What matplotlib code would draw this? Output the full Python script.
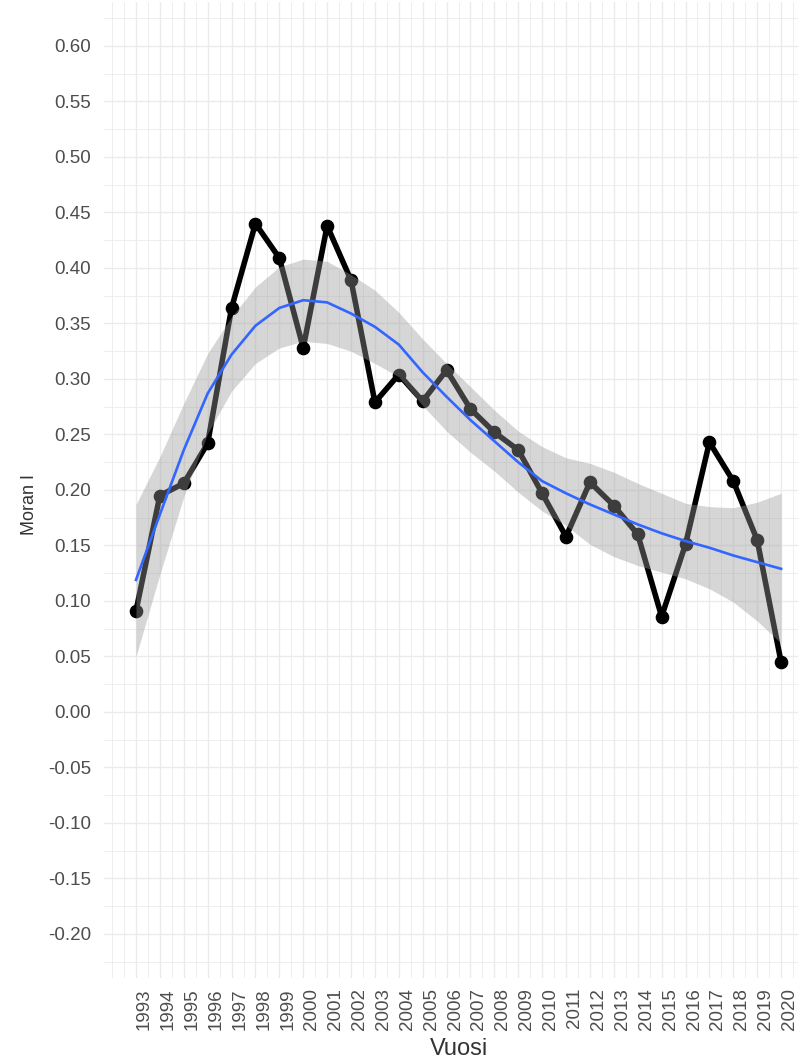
import numpy as np
import matplotlib
matplotlib.use('Agg')
import matplotlib.pyplot as plt
from matplotlib.ticker import MultipleLocator

plt.rcParams['font.family'] = ['Liberation Sans', 'DejaVu Sans']

years = list(range(1993, 2021))
moran = [0.091, 0.195, 0.206, 0.242, 0.364, 0.440, 0.409, 0.328, 0.438, 0.389,
         0.279, 0.304, 0.280, 0.308, 0.273, 0.252, 0.236, 0.197, 0.158, 0.207,
         0.186, 0.160, 0.086, 0.151, 0.243, 0.208, 0.155, 0.045]

# loess fit and its confidence band
smooth_fit = [0.119, 0.178, 0.236, 0.287, 0.322, 0.348, 0.364, 0.371, 0.369, 0.359,
              0.347, 0.331, 0.306, 0.284, 0.263, 0.244, 0.225, 0.208, 0.197, 0.187,
              0.178, 0.169, 0.161, 0.154, 0.148, 0.141, 0.135, 0.129]
smooth_hi = [0.187, 0.230, 0.278, 0.323, 0.356, 0.383, 0.401, 0.408, 0.406, 0.394,
             0.380, 0.360, 0.336, 0.314, 0.293, 0.272, 0.253, 0.239, 0.229, 0.224,
             0.216, 0.206, 0.197, 0.188, 0.185, 0.184, 0.189, 0.197]
smooth_lo = [0.050, 0.124, 0.194, 0.251, 0.289, 0.314, 0.328, 0.334, 0.332, 0.325,
             0.314, 0.302, 0.276, 0.253, 0.234, 0.217, 0.198, 0.181, 0.168, 0.151,
             0.140, 0.132, 0.126, 0.120, 0.111, 0.099, 0.082, 0.062]

y_breaks = [-0.20, -0.15, -0.10, -0.05, 0.00, 0.05, 0.10, 0.15, 0.20,
            0.25, 0.30, 0.35, 0.40, 0.45, 0.50, 0.55, 0.60]
y_labels = ['-0.20', '-0.15', '-0.10', '-0.05', '0.00', '0.05', '0.10', '0.15', '0.20',
            '0.25', '0.30', '0.35', '0.40', '0.45', '0.50', '0.55', '0.60']

fig = plt.figure(figsize=(7.98, 10.63), dpi=100)
# panel runs past the right edge, like the cropped original
ax = fig.add_axes([0.1300, 0.0796, 1.0192 - 0.1300, 0.9985 - 0.0796])

ax.plot(years, moran, color='black', lw=4, zorder=3, solid_joinstyle='round')
ax.plot(years, moran, 'o', color='black', ms=8.8, zorder=3)
ax.fill_between(years, smooth_lo, smooth_hi, color='#999999', alpha=0.4, lw=0, zorder=4)
ax.plot(years, smooth_fit, color='#3366FF', lw=1.9, zorder=5)

ax.set_xlim(1991.65, 2021.35)
ax.set_ylim(-0.24, 0.64)
ax.set_xticks(years)
ax.set_xticklabels([str(y) for y in years], rotation=90, ha='left', va='top')
ax.xaxis.set_minor_locator(MultipleLocator(0.5))
ax.set_yticks(y_breaks)
ax.set_yticklabels(y_labels)
ax.yaxis.set_minor_locator(MultipleLocator(0.025))

ax.grid(which='major', color='#EBEBEB', lw=1.0, zorder=0)
ax.grid(which='minor', color='#EBEBEB', lw=0.6, zorder=0)
ax.set_axisbelow(True)
for s in ax.spines.values():
    s.set_visible(False)
ax.tick_params(which='both', length=0, labelsize=13.5, labelcolor='#4D4D4D')
ax.tick_params(axis='y', pad=9)
ax.tick_params(axis='x', pad=7)

ax.set_xlabel('Vuosi', fontsize=17, color='#333333', labelpad=6)
ax.set_ylabel('Moran I', fontsize=13, color='#333333')
ax.yaxis.set_label_coords(-0.092, 0.485)

fig.savefig('out.png', dpi=100)
